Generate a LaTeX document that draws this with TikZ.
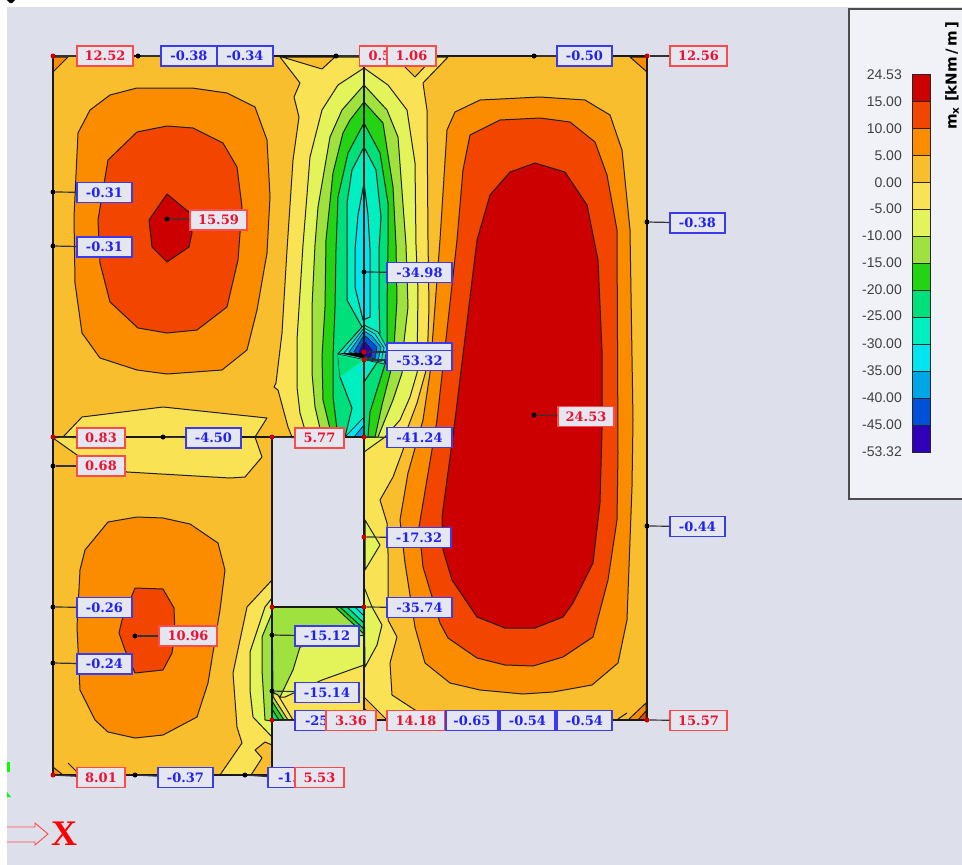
\documentclass[tikz,border=0pt]{standalone}
\usepackage{fontspec}
\setmainfont{DejaVu Serif}
\newfontfamily\legfont{Liberation Sans}
\newfontfamily\titfont{DejaVu Sans}
\newfontfamily\xfont{Liberation Serif}
\definecolor{bgc}{HTML}{DDDFEA}
\definecolor{panelc}{HTML}{F0F2F8}
\definecolor{boxc}{HTML}{E4E6F0}
\definecolor{cA}{HTML}{CC0000}
\definecolor{cB}{HTML}{F24500}
\definecolor{cC}{HTML}{FB8C00}
\definecolor{cD}{HTML}{F8BE2E}
\definecolor{cE}{HTML}{F9E253}
\definecolor{cF}{HTML}{E2F45A}
\definecolor{cG}{HTML}{9FE23F}
\definecolor{cH}{HTML}{24D414}
\definecolor{cI}{HTML}{00E07A}
\definecolor{cJ}{HTML}{00EFC0}
\definecolor{cK}{HTML}{00E5F0}
\definecolor{cL}{HTML}{00A5E5}
\definecolor{cM}{HTML}{0050D8}
\definecolor{cN}{HTML}{3000B8}
\definecolor{redl}{HTML}{FF4A4A}
\definecolor{redt}{HTML}{F01030}
\definecolor{blul}{HTML}{3A3AF0}
\definecolor{blut}{HTML}{2222F0}
\tikzset{
 cont/.style={draw=black!88,line width=1pt,line join=round},
 fine/.style={draw=black!88,line width=.7pt,line join=round},
 edge/.style={draw=black!90,line width=2.6pt,line cap=round},
 conn/.style={draw=black!80,line width=1.2pt},
 blackdot/.style={circle,fill=black,inner sep=0pt,minimum size=5pt},
 reddot/.style={circle,fill=red!80!black,inner sep=0pt,minimum size=5pt},
 redlab/.style={draw=redl,text=redt},
 blulab/.style={draw=blul,text=blut},
 vallab/.style={fill=boxc,line width=1.3pt,inner sep=0pt,minimum height=20pt,font=\fontsize{13}{15}\bfseries\selectfont},
 legtext/.style={anchor=east,text=black!75,inner sep=0pt,font=\legfont\fontsize{14}{16}\selectfont},
 swatch/.style={draw=black!85,line width=.9pt,minimum width=18pt,minimum height=27pt,inner sep=0pt}
}
% name, cx, cy, width, text, style
\newcommand{\lab}[6]{\node[vallab,#6,minimum width=#4pt] (#1) at (#2,#3) {#5};}
\newcommand{\cutlab}[7]{\node[vallab,#6,minimum width=#4pt] (#1) at (#2,#3) {\makebox[#4pt][l]{\hspace{#7pt}#5}};}
\begin{document}
\begin{tikzpicture}[x=1pt,y=-1pt]
\useasboundingbox (0,0) rectangle (962,865);
\fill[white] (0,0) rectangle (962,865);
\fill[bgc] (7,7) rectangle (962,865);
\fill[black] (7,0) -- (10,3) -- (12,3) -- (15,0) -- cycle;

% slab base
\fill[cD] (53,56) -- (647,56) -- (647,720) -- (272,720) -- (272,775) -- (53,775) -- cycle;

% corners
\draw[cont,fill=cC] (53,72) -- (68,57) -- (53,57) -- cycle;
\draw[cont,fill=cC] (630,57) -- (647,72) -- (647,57) -- cycle;
\draw[cont,fill=cC] (53,767) -- (63,775) -- (53,775) -- cycle;
\draw[cont] (68,763) -- (77,772);
\draw[cont,fill=cC] (628,720) -- (646,703) -- (646,720) -- cycle;
\draw[cont,fill=cB] (638,720) -- (646,711) -- (646,720) -- cycle;
\draw[cont] (618,719) -- (627,713);

% upper-left field
\draw[cont,fill=cC] (137,88) -- (192,88) -- (227,93) -- (255,107) -- (267,140) -- (270,197) -- (267,253) -- (257,310) -- (247,350) -- (222,370) -- (167,374) -- (137,370) -- (100,358) -- (82,333) -- (75,283) -- (74,217) -- (78,133) -- (90,110) -- (110,95) -- cycle;
\draw[cont,fill=cB] (167,126) -- (193,128) -- (223,143) -- (237,167) -- (242,207) -- (238,260) -- (227,307) -- (197,330) -- (167,333) -- (138,328) -- (110,302) -- (100,263) -- (98,220) -- (108,160) -- (137,132) -- cycle;
\draw[cont,fill=cA] (167,194) -- (190,213) -- (192,233) -- (189,247) -- (167,262) -- (152,247) -- (149,220) -- cycle;

% strip under upper-left field
\draw[cont,fill=cE] (63,437) -- (82,417) -- (163,407) -- (267,418) -- (255,437) -- (262,457) -- (245,477) -- (230,478) -- (127,472) -- (77,455) -- (53,438) -- cycle;

% lower-left field
\draw[cont,fill=cC] (108,522) -- (137,517) -- (163,518) -- (190,524) -- (218,543) -- (225,570) -- (220,610) -- (208,683) -- (197,717) -- (163,735) -- (135,738) -- (108,732) -- (95,720) -- (80,690) -- (77,627) -- (80,570) -- (85,550) -- cycle;
\draw[cont,fill=cB] (135,588) -- (163,589) -- (174,608) -- (175,633) -- (172,653) -- (163,670) -- (135,673) -- (125,650) -- (119,633) -- (122,620) -- cycle;

% right field
\draw[cont,fill=cC] (447,130) -- (455,112) -- (480,100) -- (540,97) -- (585,100) -- (610,115) -- (622,150) -- (630,230) -- (633,420) -- (632,487) -- (627,620) -- (618,663) -- (592,685) -- (553,692) -- (523,694) -- (480,690) -- (450,683) -- (425,663) -- (415,627) -- (405,563) -- (400,520) -- (408,473) -- (423,420) -- (430,373) -- (440,240) -- cycle;
\draw[cont,fill=cB] (470,135) -- (500,120) -- (540,118) -- (570,122) -- (595,142) -- (607,175) -- (617,230) -- (618,453) -- (617,520) -- (608,580) -- (593,637) -- (563,657) -- (533,666) -- (505,665) -- (477,658) -- (448,638) -- (440,623) -- (423,567) -- (419,527) -- (437,420) -- (457,240) -- (463,170) -- cycle;
\draw[cont,fill=cA] (535,163) -- (565,172) -- (587,205) -- (598,260) -- (602,350) -- (602,430) -- (600,503) -- (593,563) -- (573,603) -- (563,617) -- (535,628) -- (505,628) -- (477,617) -- (452,580) -- (443,550) -- (442,517) -- (455,420) -- (477,240) -- (490,195) -- (510,172) -- cycle;

% centre strip
\draw[cont,fill=cE] (448,57) -- (423,83) -- (427,110) -- (428,240) -- (429,307) -- (427,367) -- (417,403) -- (408,427) -- (403,450) -- (393,477) -- (380,500) -- (387,523) -- (388,553) -- (388,620) -- (397,637) -- (390,663) -- (392,695) -- (415,710) -- (430,720) -- (364,720) -- (364,437) -- (292,437) -- (288,427) -- (278,390) -- (274,387) -- (276,383) -- (282,333) -- (287,250) -- (293,160) -- (299,117) -- (294,97) -- (300,83) -- (280,57) -- cycle;
\draw[cont,fill=cD] (282,57) -- (322,69) -- (335,57) -- cycle;
\draw[cont,fill=cD] (395,57) -- (415,77) -- (434,57) -- cycle;
\draw[cont,fill=cF] (364,68) -- (338,85) -- (322,110) -- (310,157) -- (303,245) -- (297,340) -- (297,387) -- (300,413) -- (307,437) -- (364,437) -- (364,452) -- (385,437) -- (400,420) -- (410,397) -- (417,373) -- (418,290) -- (416,245) -- (415,163) -- (407,110) -- (388,85) -- cycle;
\draw[cont,fill=cG] (364,85) -- (342,110) -- (330,137) -- (318,207) -- (315,245) -- (312,307) -- (312,373) -- (315,407) -- (322,437) -- (378,437) -- (393,400) -- (402,373) -- (403,350) -- (408,307) -- (406,245) -- (398,137) -- (387,110) -- cycle;
\draw[cont,fill=cH] (364,102) -- (350,120) -- (343,133) -- (333,173) -- (326,240) -- (325,307) -- (322,357) -- (323,400) -- (332,437) -- (375,437) -- (382,405) -- (393,362) -- (397,300) -- (396,245) -- (393,187) -- (383,123) -- cycle;
\draw[cont,fill=cI] (364,123) -- (348,153) -- (338,197) -- (336,250) -- (335,307) -- (333,357) -- (333,397) -- (338,437) -- (368,437) -- (370,412) -- (387,358) -- (387,307) -- (388,245) -- (388,203) -- (380,153) -- cycle;
\draw[cont,fill=cJ] (364,147) -- (352,170) -- (347,203) -- (347,250) -- (347,300) -- (362,327) -- (338,354) -- (340,377) -- (352,408) -- (345,437) -- (364,437) -- (364,382) -- (380,358) -- (380,340) -- (379,300) -- (379,250) -- (381,217) -- (376,170) -- cycle;
\draw[cont,fill=cK] (364,183) -- (358,215) -- (355,250) -- (355,287) -- (363,320) -- (370,317) -- (370,250) -- (368,215) -- cycle;
% fan at the peak
\draw[fine,fill=cJ] (364,325) -- (338,354) -- (366,360) -- (384,364) -- (387,348) -- (378,332) -- cycle;
\draw[fine,fill=cK] (364,328) -- (344,353) -- (366,359) -- (381,362) -- (384,348) -- (375,334) -- cycle;
\draw[fine,fill=cL] (364,331) -- (349,352) -- (366,358) -- (378,361) -- (381,347) -- (372,336) -- cycle;
\draw[fine,fill=cM] (364,335) -- (354,352) -- (366,357) -- (375,359) -- (377,347) -- (369,339) -- cycle;
\draw[fine,fill=cN] (364,341) -- (359,352) -- (366,356) -- (371,357) -- (372,350) -- (366,343) -- cycle;
\fill[cI] (338,355) -- (362,360) -- (358,364) -- (340,377) -- cycle;
\fill[black] (338,353) -- (364,353) -- (364,358) -- cycle;
\fill[cK] (364,364) -- (358,370) -- (364,374) -- cycle;
\draw[fine,fill=cK] (364,417) -- (345,437) -- (364,437) -- cycle;
\draw[fine,fill=cL] (364,425) -- (354,437) -- (364,437) -- cycle;

% right of the axis, lower part
\draw[cont,fill=cF] (365,520) -- (380,545) -- (365,570) -- cycle;
\draw[cont,fill=cF] (364,587) -- (372,607) -- (382,625) -- (377,645) -- (365,667) -- cycle;
\draw[cont,fill=cD] (364,697) -- (387,720) -- (364,720) -- cycle;
\draw[cont,fill=cC] (364,708) -- (376,720) -- (364,720) -- cycle;

% left of the hole, lower part
\draw[cont,fill=cE] (272,580) -- (247,607) -- (233,673) -- (237,727) -- (242,743) -- (220,775) -- (251,775) -- (262,758) -- (255,750) -- (265,742) -- (272,745) -- cycle;
\draw[cont,fill=cF] (272,598) -- (265,607) -- (250,652) -- (250,690) -- (253,717) -- (272,737) -- cycle;
\draw[cont,fill=cG] (272,613) -- (262,637) -- (262,670) -- (265,720) -- (272,721) -- cycle;

% panel below the hole
\fill[cE] (272,607) rectangle (364,720);
\draw[cont,fill=cF] (272,607) -- (364,607) -- (364,665) -- (322,680) -- (285,697) -- (272,697) -- cycle;
\draw[cont,fill=cG] (272,607) -- (364,607) -- (364,635) -- (300,647) -- (293,670) -- (280,697) -- (273,692) -- cycle;
\draw[cont,fill=cE] (273,693) -- (278,695) -- (293,720) -- (273,720) -- cycle;
\draw[cont,fill=cG] (272,695) -- (288,720) -- (272,720) -- cycle;
\draw[cont,fill=cH] (272,701) -- (284,720) -- (272,720) -- cycle;
\draw[cont,fill=cI] (272,709) -- (279,720) -- (272,720) -- cycle;
\draw[cont,fill=cH] (335,607) -- (364,634) -- (364,607) -- cycle;
\draw[cont,fill=cI] (340,607) -- (364,629) -- (364,607) -- cycle;
\draw[cont,fill=cJ] (347,607) -- (364,623) -- (364,607) -- cycle;
\draw[cont,fill=cK] (355,607) -- (364,616) -- (364,607) -- cycle;

% hole
\fill[bgc] (272,437) rectangle (364,607);

% structural lines
\draw[edge] (53,56) -- (647,56) -- (647,720) -- (272,720);
\draw[edge] (53,56) -- (53,775) -- (272,775) -- (272,437);
\draw[edge] (53,437) -- (364,437);
\draw[edge] (364,56) -- (364,720);
\draw[edge] (272,607) -- (364,607);

% end points of the labels
\node[reddot] (p1) at (53,56) {};
\node[blackdot] (p2) at (138,56) {};
\node[blackdot] (p3) at (217,56) {};
\node[blackdot] (p4) at (336,56) {};
\node[blackdot] (p5) at (534,56) {};
\node[reddot] (p6) at (647,56) {};
\node[blackdot] (p7) at (53,192) {};
\node[blackdot] (p8) at (53,246) {};
\node[blackdot] (p9) at (167,219) {};
\node[blackdot] (p10) at (364,272) {};
\node[reddot] (p11) at (364,352) {};
\node[reddot] (p12) at (364,360) {};
\node[blackdot] (p13) at (534,415) {};
\node[blackdot] (p14) at (647,222) {};
\node[blackdot] (p15) at (647,526) {};
\node[reddot] (p16) at (53,437) {};
\node[blackdot] (p17) at (163,437) {};
\node[reddot] (p18) at (272,437) {};
\node[reddot] (p19) at (364,437) {};
\node[blackdot] (p20) at (53,466) {};
\node[reddot] (p21) at (364,537) {};
\node[reddot] (p22) at (364,607) {};
\node[blackdot] (p23) at (53,607) {};
\node[blackdot] (p24) at (53,663) {};
\node[blackdot] (p25) at (135,636) {};
\node[blackdot] (p26) at (272,635) {};
\node[blackdot] (p27) at (272,691) {};
\node[reddot] (p28) at (272,720) {};
\node[reddot] (p29) at (647,720) {};
\node[reddot] (p30) at (53,775) {};
\node[blackdot] (p31) at (135,775) {};
\node[blackdot] (p32) at (245,775) {};
\node[reddot] (p33) at (272,607) {};

% labels
\lab{l1}{105}{56}{56}{12.52}{redlab}
\lab{l2}{189}{56}{56}{-0.38}{blulab}
\lab{l3}{245}{56}{56}{-0.34}{blulab}
\cutlab{l4}{375}{56}{31}{0.5}{redlab}{9}
\lab{l5}{411.5}{56}{49}{1.06}{redlab}
\lab{l6}{584.5}{56}{55}{-0.50}{blulab}
\lab{l7}{698.5}{56}{57}{12.56}{redlab}
\lab{l8}{104.5}{192.5}{55}{-0.31}{blulab}
\lab{l9}{104.5}{247}{55}{-0.31}{blulab}
\lab{l10}{218.5}{220}{57}{15.59}{redlab}
\lab{l11}{419.5}{272.5}{65}{-34.98}{blulab}
\node[vallab,blulab,minimum width=65pt] (l12) at (419.5,353) {};
\lab{l13}{419.5}{360.5}{65}{-53.32}{blulab}
\lab{l14}{586}{416.5}{56}{24.53}{redlab}
\lab{l15}{697.5}{223}{55}{-0.38}{blulab}
\lab{l16}{697.5}{526.5}{55}{-0.44}{blulab}
\lab{l17}{101}{438}{48}{0.83}{redlab}
\lab{l18}{213.5}{438}{55}{-4.50}{blulab}
\lab{l19}{319.5}{438}{49}{5.77}{redlab}
\lab{l20}{419.5}{437.5}{65}{-41.24}{blulab}
\lab{l21}{101}{466}{48}{0.68}{redlab}
\lab{l22}{419}{537.5}{64}{-17.32}{blulab}
\lab{l23}{419.5}{607.5}{65}{-35.74}{blulab}
\lab{l24}{104.5}{607.5}{55}{-0.26}{blulab}
\lab{l25}{104.5}{664}{55}{-0.24}{blulab}
\lab{l26}{188}{636}{58}{10.96}{redlab}
\lab{l27}{327}{636}{64}{-15.12}{blulab}
\lab{l28}{327}{692.5}{64}{-15.14}{blulab}
\cutlab{l29}{310.5}{720.5}{31}{-25}{blulab}{10}
\lab{l30}{351}{720.5}{50}{3.36}{redlab}
\lab{l31}{416}{720.5}{58}{14.18}{redlab}
\lab{l32}{472}{720.5}{52}{-0.65}{blulab}
\lab{l33}{527.5}{720.5}{55}{-0.54}{blulab}
\lab{l34}{584.5}{720.5}{55}{-0.54}{blulab}
\lab{l35}{698.5}{720.5}{57}{15.57}{redlab}
\lab{l36}{101}{777.5}{48}{8.01}{redlab}
\lab{l37}{185.5}{777.5}{55}{-0.37}{blulab}
\cutlab{l38}{281.5}{777.5}{27}{-1.}{blulab}{10}
\lab{l39}{319.5}{777.5}{49}{5.53}{redlab}

% connectors
\draw[conn] (p1) -- (l1);
\draw[conn] (p2) -- (l2);
\draw[conn] (p5) -- (l6);
\draw[conn] (p6) -- (l7);
\draw[conn] (p4) -- (l4);
\draw[conn] (p7) -- (l8);
\draw[conn] (p8) -- (l9);
\draw[conn] (p9) -- (l10);
\draw[conn] (p10) -- (l11);
\draw[conn] (p11) -- (p11 -| l12.west);
\draw[conn] (p12) -- (p12 -| l13.west);
\draw[conn] (p13) -- (l14);
\draw[conn] (p14) -- (l15);
\draw[conn] (p15) -- (l16);
\draw[conn] (p16) -- (l17);
\draw[conn] (p17) -- (l18);
\draw[conn] (p18) -- (l19);
\draw[conn] (p19) -- (l20);
\draw[conn] (p20) -- (l21);
\draw[conn] (p21) -- (l22);
\draw[conn] (p22) -- (l23);
\draw[conn] (p23) -- (l24);
\draw[conn] (p24) -- (l25);
\draw[conn] (p25) -- (l26);
\draw[conn] (p26) -- (l27);
\draw[conn] (p27) -- (l28);
\draw[conn] (p28) -- (l29);
\draw[conn] (p29) -- (l35);
\draw[conn] (p30) -- (l36);
\draw[conn] (p31) -- (l37);
\draw[conn] (p32) -- (l38);

% legend
\draw[draw=black!70,fill=panelc,line width=1.2pt] (849,9) -- (963,9) -- (963,499) -- (849,499) -- cycle;
\foreach \nm/\col/\yy in {s1/cA/87.5,s2/cB/114.5,s3/cC/141.5,s4/cD/168.5,s5/cE/195.5,s6/cF/222.5,s7/cG/249.5,s8/cH/276.5,s9/cI/303.5,s10/cJ/330.5,s11/cK/357.5,s12/cL/384.5,s13/cM/411.5,s14/cN/438.5}
  \node[swatch,fill=\col] (\nm) at (921,\yy) {};
\foreach \nm/\txt/\yy in {t1/24.53/75,t2/15.00/102,t3/10.00/129,t4/5.00/156,t5/0.00/183,t6/-5.00/209,t7/-10.00/236,t8/-15.00/263,t9/-20.00/290,t10/-25.00/316,t11/-30.00/344,t12/-35.00/371,t13/-40.00/398,t14/-45.00/425,t15/-53.32/452}
  \node[legtext] (\nm) at (902,\yy) {\txt};
\node[anchor=west,rotate=90,inner sep=0pt,font=\titfont\fontsize{15}{17}\bfseries\selectfont] (title) at (952,130) {m\textsubscript{x}\hspace{5pt}[kNm\,/\,m\,]};

% axis arrow
\draw[draw=redl,fill=bgc,line width=.9pt] (7,827) -- (35,827) -- (35,823) -- (48,834) -- (35,845) -- (35,842) -- (7,842);
\node[anchor=west,inner sep=0pt,text=red,font=\xfont\fontsize{36}{38}\bfseries\selectfont] (xlabel) at (51,834) {X};

% green specks
\fill[green] (7,762) rectangle (10,772);
\fill[green] (7,792) -- (11,797) -- (7,797) -- cycle;
\end{tikzpicture}
\end{document}
